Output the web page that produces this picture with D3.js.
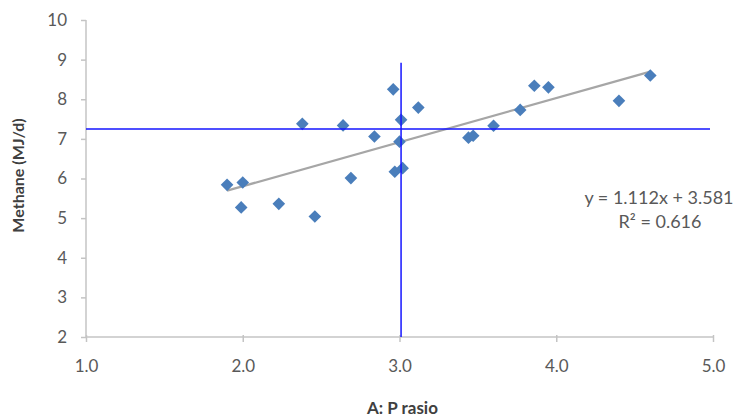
<!DOCTYPE html>
<html>
<head>
<meta charset="utf-8">
<script src="https://cdn.jsdelivr.net/npm/d3@7"></script>
<style>
  body { margin: 0; background: #fff; }
  text { font-family: Lato, "Open Sans", sans-serif; }
</style>
</head>
<body>
<script>
// A:P ratio vs methane
var ratio   = [1.90, 2.00, 1.99, 2.23, 2.38, 2.46, 2.64, 2.69, 2.84, 2.96, 3.01, 3.00, 2.97, 3.02, 3.12,
               3.44, 3.47, 3.60, 3.77, 3.86, 3.95, 4.40, 4.60];
var methane = [5.84, 5.90, 5.27, 5.36, 7.38, 5.04, 7.34, 6.01, 7.06, 8.25, 7.48, 6.93, 6.17, 6.26, 7.79,
               7.03, 7.08, 7.33, 7.73, 8.34, 8.30, 7.96, 8.60];
var xTicks = [1, 2, 3, 4, 5];
var yTicks = [2, 3, 4, 5, 6, 7, 8, 9, 10];
var slope = 1.112, intercept = 3.581, r2 = 0.616;
var meanX = 3.01, meanY = 7.25, meanTop = 8.92;

var w = 740, h = 417;
var svg = d3.select("body").append("svg").attr("width", w).attr("height", h);

var x = d3.scaleLinear().domain([1, 5]).range([86, 713]);
var y = d3.scaleLinear().domain([2, 10]).range([337, 20]);
var grey = "#595959", axisCol = "#c4c4c4";

// y axis
var yAxis = svg.append("g").attr("transform", "translate(" + x(1) + ",0)")
    .call(d3.axisLeft(y).tickValues(yTicks).tickSize(5).tickPadding(14).tickFormat(d3.format("d")));
// x axis
var xAxis = svg.append("g").attr("transform", "translate(0," + y(2) + ")")
    .call(d3.axisBottom(x).tickValues(xTicks).tickSize(5).tickPadding(18).tickFormat(d3.format(".1f")));

[xAxis, yAxis].forEach(function(a) {
  a.select(".domain").attr("stroke", axisCol).attr("stroke-width", 1.5);
  a.selectAll(".tick line").attr("stroke", axisCol).attr("stroke-width", 1.5);
  a.selectAll(".tick text").attr("fill", grey).style("font-size", "17px")
    .style("font-family", "Lato, 'Open Sans', sans-serif");
});
yAxis.select(".domain").attr("d", "M0," + y(2) + "V" + y(10));
xAxis.select(".domain").attr("d", "M" + x(1) + ",0H" + x(5));
xAxis.selectAll(".tick line").attr("y1", -2);

// titles
svg.append("text").attr("x", x(3) + 3).attr("y", 414).attr("text-anchor", "middle")
  .attr("fill", "#404040").style("font-size", "17px").style("font-weight", "bold").text("A: P rasio");
svg.append("text").attr("transform", "translate(24," + (y(6) - 3) + ") rotate(-90)").attr("text-anchor", "middle")
  .attr("fill", "#404040").style("font-size", "16px").style("font-weight", "bold").text("Methane (MJ/d)");

// trend line
var xmin = d3.min(ratio), xmax = d3.max(ratio);
svg.append("line")
  .attr("x1", x(xmin)).attr("y1", y(slope * xmin + intercept))
  .attr("x2", x(xmax)).attr("y2", y(slope * xmax + intercept))
  .attr("stroke", "#a6a6a6").attr("stroke-width", 2.2);

// points
var pts = ratio.map(function(d, i) { return { x: d, y: methane[i] }; });
svg.selectAll(".pt").data(pts).enter().append("path")
  .attr("class", "pt")
  .attr("d", d3.symbol().type(d3.symbolSquare).size(80))
  .attr("transform", function(d) { return "translate(" + x(d.x) + "," + y(d.y) + ") rotate(45)"; })
  .attr("fill", "#4a7ebb");

// blue reference lines
svg.append("line").attr("x1", x(1)).attr("x2", 710).attr("y1", y(meanY)).attr("y2", y(meanY))
  .attr("stroke", "#1515ff").attr("stroke-width", 1.5);
svg.append("line").attr("x1", x(meanX)).attr("x2", x(meanX)).attr("y1", y(meanTop)).attr("y2", y(2))
  .attr("stroke", "#1515ff").attr("stroke-width", 1.5);

// equation
svg.append("text").attr("x", 659).attr("y", 204).attr("text-anchor", "middle")
  .attr("fill", grey).style("font-size", "18px").text("y = " + slope + "x + " + intercept);
svg.append("text").attr("x", 660).attr("y", 228).attr("text-anchor", "middle")
  .attr("fill", grey).style("font-size", "18px").text("R² = " + r2);
</script>
</body>
</html>
